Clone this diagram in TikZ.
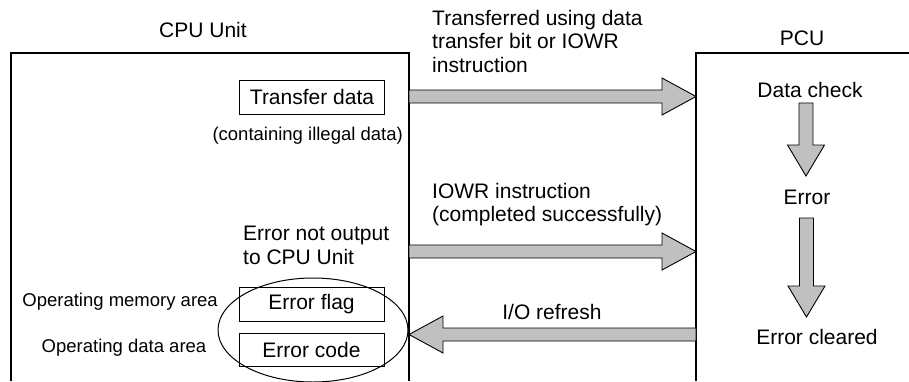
\documentclass[tikz,border=0pt]{standalone}
\usepackage{fontspec}
\setmainfont{Liberation Sans}
\usetikzlibrary{calc,shapes.geometric}
\definecolor{arrowgray}{RGB}{192,192,192}
\newcommand{\hblk}[3]{%
\draw[blk] ($(#1)+(0,-6.5)$) -- ($(#2)+(-34*#3,-6.5)$) -- ($(#2)+(-34*#3,-18.5)$) -- (#2) -- ($(#2)+(-34*#3,18.5)$) -- ($(#2)+(-34*#3,6.5)$) -- ($(#1)+(0,6.5)$) -- cycle;}
\newcommand{\vblk}[2]{%
\draw[blk] ($(#1)+(-7,0)$) -- ($(#2)+(-7,-31)$) -- ($(#2)+(-18.5,-31)$) -- (#2) -- ($(#2)+(18.5,-31)$) -- ($(#2)+(7,-31)$) -- ($(#1)+(7,0)$) -- cycle;}
\begin{document}
\begin{tikzpicture}[x=1pt,y=-1pt,
  blk/.style={draw=black,fill=arrowgray,line width=0.9pt,line join=miter},
  unitbox/.style={draw=black,line width=1.1pt},
  bigtxt/.style={font=\fontsize{21}{23.5}\selectfont,inner sep=0pt},
  smalltxt/.style={font=\fontsize{18.5}{22}\selectfont,inner sep=0pt},
  databox/.style={draw=black,line width=1pt,minimum width=145pt,minimum height=34pt,inner sep=0pt,font=\fontsize{21}{23.5}\selectfont}]
\useasboundingbox (0,0) rectangle (909,381);
% unit outlines
\coordinate (cpuBL) at (11,381);
\coordinate (cpuTL) at (11,53);
\coordinate (cpuTR) at (409,53);
\coordinate (cpuBR) at (409,381);
\coordinate (pcuBL) at (696,381);
\coordinate (pcuTL) at (696,53);
\coordinate (pcuTR) at (909,53);
\draw[unitbox] (cpuBL) -- (cpuTL) -- (cpuTR) -- (cpuBR);
\draw[unitbox] (pcuBL) -- (pcuTL) -- (pcuTR);
% titles
\node[bigtxt] (cpulbl) at (203,30) {CPU Unit};
\node[bigtxt] (pculbl) at (802,38) {PCU};
% CPU contents
\node[databox] (tdata) at (312,97) {Transfer data};
\node[smalltxt,anchor=east] (illegal) at (403,136) {(containing illegal data)};
\node[bigtxt,anchor=north west,align=left] (notout) at (243,226) {Error not output\\to CPU Unit};
\node[databox] (eflag) at (311.5,304) {Error flag};
\node[databox,minimum height=33pt] (ecode) at (311.5,349.5) {Error code};
\node[draw,ellipse,line width=1pt,minimum width=190pt,minimum height=104pt] (circ) at (313,330) {};
\node[smalltxt,anchor=east] (opmem) at (218,302) {Operating memory area};
\node[smalltxt] (opdata) at (124,348) {Operating data area};
% PCU contents
\node[bigtxt] (dcheck) at (810,90) {Data check};
\node[bigtxt] (err) at (807,197) {Error};
\node[bigtxt] (ecleared) at (817,337) {Error cleared};
% arrow labels
\node[bigtxt,anchor=north west,align=left] (l1) at (432,10) {Transferred using data\\transfer bit or IOWR\\instruction};
\node[bigtxt,anchor=north west,align=left] (l2) at (432,183) {IOWR instruction\\(completed successfully)};
\node[bigtxt] (l3) at (552,312) {I/O refresh};
% block arrows
\coordinate (a1s) at (409,96.5);
\coordinate (a1e) at (696,96.5);
\coordinate (a2s) at (409,251.5);
\coordinate (a2e) at (696,251.5);
\coordinate (a3s) at (696,334.5);
\coordinate (a3e) at (409,334.5);
\hblk{a1s}{a1e}{1}
\hblk{a2s}{a2e}{1}
\hblk{a3s}{a3e}{-1}
\coordinate (d1s) at (806,103);
\coordinate (d1e) at (806,176);
\coordinate (d2s) at (806.5,218);
\coordinate (d2e) at (806.5,317);
\vblk{d1s}{d1e}
\vblk{d2s}{d2e}
\end{tikzpicture}
\end{document}
